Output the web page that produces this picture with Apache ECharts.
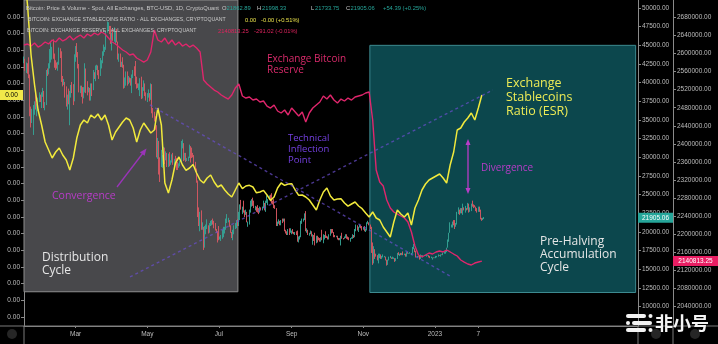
<!DOCTYPE html>
<html>
<head>
<meta charset="utf-8">
<script src="https://cdn.jsdelivr.net/npm/echarts@6/dist/echarts.min.js"></script>
<style>
  html, body { margin: 0; padding: 0; background: #000; }
  #main { width: 718px; height: 344px; }
</style>
</head>
<body>
<div id="main"></div>
<script>
// ---------- data ----------
const startDate = '2022-01-16';           // first daily candle
const sampleStep = 3;                     // on-chain series sampled every 3 days

const xTickDates  = ['2022-03-01', '2022-05-01', '2022-07-01', '2022-09-01', '2022-11-01', '2023-01-01', '2023-02-07'];
const xTickLabels = ['Mar', 'May', 'Jul', 'Sep', 'Nov', '2023', '7'];

const priceTicks = [10000, 12500, 15000, 17500, 20000, 22500, 25000, 27500, 30000, 32500, 35000, 37500, 40000, 42500, 45000, 47500, 50000];
const reserveTicks = [2040000, 2080000, 2120000, 2160000, 2200000, 2240000, 2280000, 2320000, 2360000, 2400000, 2440000, 2480000, 2520000, 2560000, 2600000, 2640000, 2680000];
const esrTicks = [0.0010, 0.0011, 0.0012, 0.0013, 0.0014, 0.0015, 0.0016, 0.0017, 0.0018, 0.0019, 0.0020, 0.0021, 0.0022, 0.0023, 0.0024, 0.0025, 0.0026, 0.0027, 0.0028];

// BTC-USD daily candles, thousands of USD (open = previous close)
const firstOpen = 43.1;
const btcClose = [
  43.1,42.2,42.4,41.7,40.7,36.5,35.1,36.3,36.7,37.0,36.9,37.2,37.7,38.2,37.9,38.5,
  38.7,37.0,37.3,41.6,41.4,42.4,43.8,44.1,44.4,43.6,42.4,42.2,42.1,42.6,44.6,43.9,40.6,40.0,40.1,38.4,37.0,38.3,37.3,38.3,39.2,39.1,37.7,43.2,
  44.4,44.0,42.5,39.1,39.4,38.4,37.9,38.7,41.9,39.4,38.8,38.9,37.8,39.7,39.3,41.1,40.9,42.0,42.2,41.3,41.0,42.4,42.9,44.0,44.3,44.5,46.8,47.1,47.5,47.1,45.5,
  46.3,45.8,46.4,46.6,45.5,43.2,43.4,42.3,42.8,42.2,39.5,40.1,41.1,39.9,40.6,40.4,39.7,40.8,41.5,41.4,40.5,39.7,39.5,39.5,40.4,38.1,39.2,39.7,38.6,37.6,
  38.5,38.5,37.7,39.7,36.6,36.0,35.5,34.1,30.1,31.0,29.1,29.0,29.3,30.1,31.3,29.9,30.4,28.7,30.3,29.2,29.4,30.3,29.1,29.7,29.6,29.3,28.6,29.0,29.5,31.7,31.8,
  29.8,30.5,29.7,29.9,29.9,31.4,31.1,30.2,30.1,29.1,28.4,26.6,22.5,22.2,22.6,20.4,20.5,19.0,20.6,20.6,20.7,20.0,21.1,21.2,21.5,21.0,20.7,20.3,20.1,19.8,
  19.3,19.3,19.3,20.2,20.2,20.5,21.6,21.6,21.6,20.9,19.9,19.3,20.2,20.6,20.8,21.2,20.8,22.5,23.4,23.2,23.2,22.7,22.5,22.6,21.3,21.3,22.9,23.8,23.8,23.6,23.3,
  23.3,23.0,22.8,22.6,23.3,23.2,23.2,23.8,23.2,23.9,23.9,24.4,24.4,24.3,24.1,23.9,23.3,23.2,20.8,21.1,21.5,21.4,21.5,21.4,21.6,20.3,20.0,19.6,20.3,19.8,20.0,
  20.1,19.9,19.8,20.0,19.8,18.8,19.3,19.3,21.4,21.6,21.8,22.4,20.2,20.2,19.7,19.8,20.1,19.4,19.5,18.9,18.5,19.4,19.3,18.9,18.8,19.2,19.1,19.4,19.6,19.4,
  19.3,19.0,19.6,20.3,20.2,19.9,19.5,19.4,19.4,19.1,19.0,19.2,19.4,19.2,19.1,19.3,19.5,19.3,19.1,19.0,19.2,19.2,19.6,19.3,20.1,20.8,20.3,20.6,20.8,20.6,20.5,
  20.5,20.2,20.2,21.1,21.3,20.9,20.6,18.5,15.9,17.6,17.1,16.8,16.3,16.6,16.9,16.7,16.7,16.7,16.7,16.3,15.8,16.2,16.6,16.6,16.5,16.5,16.5,16.2,16.4,17.2,
  17.0,17.1,16.9,17.1,17.0,17.1,16.8,17.2,17.1,17.1,17.1,17.2,17.8,17.8,17.4,16.6,16.8,16.7,16.4,16.9,16.8,16.8,16.8,16.8,16.8,16.9,16.7,16.5,16.6,16.6,16.5,
  16.6,16.7,16.7,16.9,16.8,17.0,16.9,17.1,17.2,17.4,17.9,18.8,19.9,20.9,20.9,21.2,21.1,20.7,21.1,22.7,22.8,22.7,22.9,22.6,23.1,23.0,23.1,23.0,23.7,22.8,23.1,
  23.7,23.5,23.4,23.3,22.9,22.8,23.2,22.9,21.8,21.6,21.86289,21.90506
];
const btcHigh = [
  43.5,43.2,42.7,42.6,43.4,41.1,36.8,36.5,37.0,37.5,38.9,37.2,38.0,38.7,38.4,38.7,
  39.3,38.9,37.4,41.7,41.9,42.6,44.5,45.4,44.8,45.8,43.9,43.0,42.7,42.8,44.7,44.6,44.2,40.9,40.5,40.1,39.5,38.4,39.2,38.9,39.7,40.1,39.8,43.8,
  44.9,45.3,44.1,42.5,39.6,39.6,39.4,39.4,42.6,41.9,40.2,39.4,39.3,39.9,39.9,41.7,41.4,42.3,42.4,42.3,41.7,43.3,43.0,44.2,45.1,44.8,46.9,48.2,48.1,47.6,47.6,
  46.7,47.2,47.4,46.9,47.2,45.5,43.9,43.9,42.8,43.4,42.4,40.7,41.5,41.5,40.9,40.7,40.6,41.1,41.7,42.2,42.9,40.8,39.9,39.9,40.6,40.8,39.4,40.3,39.9,38.7,
  38.6,39.1,38.6,39.9,39.8,36.6,36.1,35.5,34.3,32.6,32.2,30.0,31.0,30.3,31.4,31.3,30.8,30.6,30.5,30.7,29.6,30.4,30.6,29.8,30.2,29.9,29.4,29.2,29.5,32.2,32.4,
  31.9,30.6,30.6,29.9,30.1,31.7,31.5,31.3,30.6,30.3,29.4,28.5,26.9,23.3,22.7,22.9,21.3,20.7,20.8,21.0,21.7,20.9,21.2,21.5,21.6,21.8,21.5,21.2,20.4,20.1,
  20.8,19.4,19.6,20.3,20.7,20.7,21.8,22.4,21.9,21.6,20.9,20.0,20.3,20.9,21.2,21.6,21.7,22.7,23.7,24.3,23.4,24.2,22.9,23.0,22.7,21.4,23.0,24.2,24.4,24.6,24.2,
  23.5,23.4,23.6,23.2,23.4,23.3,23.4,24.2,23.9,24.2,24.9,24.4,24.9,25.0,25.2,24.2,24.4,23.6,23.2,21.4,21.7,21.5,21.6,21.8,21.8,21.8,20.3,20.1,20.4,20.5,20.5,
  20.2,20.4,20.0,20.0,20.1,20.2,19.4,19.5,21.5,21.8,21.8,22.5,22.8,20.5,20.3,19.9,20.2,20.1,19.7,19.6,19.9,19.5,19.5,19.3,19.2,19.3,20.3,19.7,19.6,20.1,
  19.5,19.4,19.7,20.4,20.4,20.4,20.0,19.6,19.5,19.5,19.2,19.2,19.5,19.9,19.2,19.4,19.7,19.7,19.4,19.3,19.2,19.3,19.7,19.6,20.4,21.0,20.9,20.7,21.0,20.9,20.8,
  20.7,20.8,20.4,21.3,21.5,21.3,21.0,20.7,18.6,18.1,17.7,17.1,16.9,17.1,17.1,17.0,16.8,17.0,16.8,16.7,16.3,16.3,16.7,16.8,16.6,16.7,16.6,16.5,16.5,17.2,
  17.3,17.1,17.2,17.2,17.4,17.1,17.1,17.3,17.3,17.2,17.3,17.2,18.0,18.4,17.8,17.5,16.8,16.8,16.8,17.0,16.9,16.9,16.9,16.9,16.9,16.9,16.9,16.8,16.7,16.6,16.6,
  16.6,16.8,16.8,17.0,16.9,17.0,17.0,17.2,17.4,17.5,17.9,19.0,19.9,21.3,21.0,21.4,21.6,21.6,21.2,22.7,23.3,23.0,23.2,23.2,23.8,23.3,23.5,23.2,23.9,23.8,23.3,
  23.8,24.2,23.7,23.6,23.4,23.2,23.4,23.4,23.0,21.9,21.9,21.99833
];
const btcLow = [
  42.6,41.6,41.3,41.2,40.6,35.5,34.0,34.6,33.0,35.7,36.4,35.5,36.2,37.4,37.4,36.6,
  38.1,36.6,36.3,37.0,40.9,41.1,41.9,42.7,43.1,43.2,42.0,41.7,41.9,41.6,42.4,43.3,40.1,39.5,39.7,38.0,36.8,36.4,37.1,34.3,38.0,38.6,37.0,37.5,
  42.8,43.4,41.9,38.7,38.6,38.1,37.2,37.9,38.7,38.6,38.3,38.7,37.6,37.6,38.2,39.0,40.5,40.2,41.7,41.0,40.5,40.9,41.9,42.6,43.6,44.1,44.4,46.7,46.9,46.5,45.2,
  44.3,45.6,45.5,45.1,45.4,43.1,42.8,42.1,42.1,42.0,39.2,39.3,39.6,39.6,39.8,40.0,39.6,38.6,40.6,40.9,39.8,39.2,39.3,39.0,38.2,37.8,37.9,38.9,38.2,37.6,
  37.4,38.0,37.5,37.7,35.9,35.3,34.8,33.7,30.0,29.8,27.7,26.7,28.7,28.6,29.5,29.1,29.6,28.7,28.7,28.8,29.0,29.3,29.0,28.7,29.3,28.3,28.3,28.6,28.8,29.3,31.2,
  29.5,29.6,29.4,29.5,29.5,29.9,29.3,29.9,30.0,28.9,28.1,26.6,22.0,20.8,20.1,20.3,20.3,17.6,17.9,19.7,20.4,19.8,19.9,20.8,20.9,21.0,20.5,20.2,19.9,18.6,
  18.9,19.0,18.8,19.1,19.3,19.8,20.3,21.2,21.3,20.7,19.9,19.2,18.9,19.7,20.4,20.5,20.8,20.8,21.6,23.0,22.4,22.6,22.0,22.3,21.3,20.7,21.0,22.6,23.4,23.5,23.2,
  22.9,22.7,22.6,22.4,22.6,22.9,22.9,23.2,22.9,22.7,23.9,23.6,24.3,24.1,23.8,23.7,23.2,23.1,20.8,20.8,21.1,20.9,20.9,21.2,21.4,20.1,19.8,19.6,19.6,19.6,19.9,
  19.7,19.8,19.7,19.6,19.6,18.7,18.6,19.0,19.3,21.1,21.4,21.6,20.1,19.9,19.6,19.5,19.7,19.4,18.3,18.8,18.2,18.5,18.6,18.9,18.7,18.7,18.9,18.5,19.0,19.2,
  19.2,19.0,19.0,19.5,19.8,19.9,19.3,19.3,19.3,19.0,18.9,18.9,18.2,19.1,19.0,19.1,19.2,19.1,19.0,18.9,18.7,19.1,19.1,19.2,19.3,20.1,20.2,20.0,20.6,20.5,20.2,
  20.3,20.1,20.0,20.2,21.1,20.9,20.4,17.2,15.6,15.8,16.4,16.7,16.2,15.8,16.5,16.4,16.4,16.6,16.6,16.2,15.5,15.6,16.2,16.5,16.4,16.4,16.4,16.0,16.1,16.4,
  16.9,16.8,16.9,16.9,16.9,16.9,16.7,16.7,17.1,17.1,17.1,16.9,17.1,17.7,17.3,16.6,16.6,16.7,16.3,16.4,16.8,16.6,16.8,16.8,16.7,16.8,16.6,16.5,16.5,16.3,16.5,
  16.5,16.5,16.6,16.7,16.8,16.7,16.9,16.9,17.1,17.1,17.3,17.9,18.7,19.9,20.6,20.6,20.9,20.4,20.7,21.0,22.4,22.3,22.5,22.5,22.3,22.9,22.6,22.9,23.0,22.6,22.7,
  22.8,23.4,23.2,23.3,22.8,22.6,22.7,22.7,21.7,21.5,21.6,21.73375
];

// Exchange Stablecoins Ratio, every 3 days
const esrValues = [
  0.003082,0.002872,0.002572,0.002392,0.002242,0.002152,0.002050,0.002002,0.001954,0.001990,
  0.002014,0.001972,0.001942,0.001882,0.001954,0.002074,0.002152,0.002182,0.002164,0.002212,
  0.002194,0.002218,0.002182,0.002212,0.002152,0.002062,0.002110,0.002140,0.002170,0.002194,
  0.002182,0.002134,0.002050,0.002122,0.002164,0.002134,0.002104,0.002122,0.002254,0.002152,
  0.001804,0.001744,0.001822,0.001924,0.001960,0.001912,0.001880,0.001894,0.001915,0.001864,
  0.001822,0.001804,0.001834,0.001852,0.001810,0.001780,0.001792,0.001762,0.001738,0.001720,
  0.001762,0.001804,0.001770,0.001786,0.001790,0.001780,0.001745,0.001750,0.001760,0.001732,
  0.001700,0.001720,0.001774,0.001804,0.001790,0.001798,0.001800,0.001762,0.001730,0.001732,
  0.001720,0.001702,0.001672,0.001642,0.001702,0.001750,0.001774,0.001726,0.001702,0.001708,
  0.001710,0.001684,0.001665,0.001678,0.001690,0.001666,0.001650,0.001624,0.001600,0.001630,
  0.001594,0.001582,0.001540,0.001510,0.001480,0.001570,0.001642,0.001618,0.001600,0.001624,
  0.001552,0.001654,0.001702,0.001762,0.001798,0.001822,0.001834,0.001846,0.001858,0.001834,
  0.001804,0.001912,0.001990,0.002122,0.002134,0.002170,0.002194,0.002224,0.002182,0.002254,
  0.002332
];

// Exchange Bitcoin Reserve (BTC), every 3 days
const reserveValues = [
  2618700,2621000,2616500,2623200,2614300,2618700,2625400,2621000,2629800,2625400,
  2634200,2627600,2632000,2638600,2629800,2636400,2640900,2634200,2643100,2638600,
  2645300,2640900,2647500,2643100,2634200,2625400,2621000,2614300,2607700,2603300,
  2596600,2598800,2590000,2585600,2581100,2585600,2603300,2651900,2629800,2625400,
  2634200,2621000,2629800,2618700,2625400,2616500,2621000,2614300,2618700,2612100,
  2603300,2541300,2532500,2525900,2519200,2514800,2508200,2503700,2499300,2508200,
  2523600,2532500,2506000,2501500,2503700,2497100,2499300,2492700,2494900,2483800,
  2479400,2486100,2472800,2468400,2475000,2463900,2479400,2470600,2461700,2470600,
  2448500,2468400,2479400,2486100,2492700,2506000,2499300,2508200,2497100,2490500,
  2499300,2494900,2501500,2497100,2503700,2506000,2508200,2512600,2514800,2452900,
  2342300,2315800,2306900,2276000,2258300,2249400,2245000,2240600,2236200,2227300,
  2205200,2174200,2154300,2149900,2154300,2158700,2156500,2161000,2163200,2161000,
  2165400,2161000,2156500,2152100,2143300,2138800,2134400,2132200,2136600,2138800,
  2140813.25
];

// ---------- helpers ----------
const DAY = 864e5;
function utc(s) { const p = s.split('-').map(Number); return Date.UTC(p[0], p[1] - 1, p[2]); }
function dayIndex(s) { return Math.round((utc(s) - utc(startDate)) / DAY); }

const candles = btcClose.map((c, i) => {
  const o = i === 0 ? firstOpen : btcClose[i - 1];
  return [i, o * 1000, c * 1000, btcLow[i] * 1000, btcHigh[i] * 1000];
});
const esrSeries = esrValues.map((v, i) => [i * sampleStep, v]);
const reserveSeries = reserveValues.map((v, i) => [i * sampleStep, v]);
const xTickDays = xTickDates.map(dayIndex);
const xLabelByDay = {};
xTickDays.forEach((d, i) => { xLabelByDay[d] = xTickLabels[i]; });

// ---------- styles ----------
const AXIS_TXT = '#bdbdbd';
const AXIS_LINE = '#8a8a8a';
const SMALL = 6.5;
const UP = '#35a596', DOWN = '#da5862';

const chart = echarts.init(document.getElementById('main'), null, { renderer: 'canvas' });

const option = {
  backgroundColor: '#000',
  animation: false,
  grid: { left: 24, right: 80, top: 0, bottom: 18, containLabel: false, outerBoundsMode: 'none' },
  xAxis: {
    type: 'value', min: 0, max: 523,
    axisLine: { show: true, lineStyle: { color: AXIS_LINE } },
    axisTick: { show: true, length: 2, customValues: xTickDays, lineStyle: { color: AXIS_LINE } },
    axisLabel: {
      customValues: xTickDays, color: AXIS_TXT, fontSize: SMALL, margin: 5,
      fontFamily: 'Liberation Sans',
      formatter: v => xLabelByDay[Math.round(v)] || ''
    },
    splitLine: { show: false }
  },
  yAxis: [
    { // stablecoins ratio
      type: 'value', position: 'left', min: 0.000946, max: 0.002902,
      axisLine: { show: true, lineStyle: { color: AXIS_LINE } },
      axisTick: { show: true, length: 3, customValues: esrTicks, lineStyle: { color: AXIS_LINE } },
      axisLabel: { customValues: esrTicks, color: AXIS_TXT, fontSize: SMALL, margin: 4, fontFamily: 'Liberation Sans', formatter: v => v.toFixed(2) },
      splitLine: { show: false }
    },
    { // price
      type: 'value', position: 'right', min: 7415, max: 51070,
      axisLine: { show: true, lineStyle: { color: AXIS_LINE } },
      axisTick: { show: true, length: 3, customValues: priceTicks, lineStyle: { color: AXIS_LINE } },
      axisLabel: { customValues: priceTicks, color: AXIS_TXT, fontSize: SMALL, margin: 4, fontFamily: 'Liberation Sans', formatter: v => v.toFixed(2) },
      splitLine: { show: false }
    },
    { // reserve
      type: 'value', position: 'right', offset: 35, min: 1997300, max: 2718300,
      axisLine: { show: true, lineStyle: { color: AXIS_LINE } },
      axisTick: { show: true, length: 3, customValues: reserveTicks, lineStyle: { color: AXIS_LINE } },
      axisLabel: { customValues: reserveTicks, color: AXIS_TXT, fontSize: SMALL, margin: 4, fontFamily: 'Liberation Sans', formatter: v => v.toFixed(2) },
      splitLine: { show: false }
    }
  ],
  series: [
    { // cycle zones and trend guides
      type: 'line', yAxisIndex: 1, data: [], z: 1, silent: true,
      markArea: {
        silent: true,
        data: [
          [{ xAxis: 0, yAxis: 51070, itemStyle: { color: '#48484b', borderColor: '#8e8e8e', borderWidth: 1 } },
           { xAxis: 182.2, yAxis: 12000 }],
          [{ xAxis: 294.6, yAxis: 45000, itemStyle: { color: '#0c474d', borderColor: '#3d8a90', borderWidth: 1 } },
           { xAxis: 521, yAxis: 11900 }]
        ]
      },
      markLine: {
        silent: true, symbol: ['none', 'none'],
        label: { show: false },
        lineStyle: { color: 'rgba(105,78,205,0.7)', type: [3, 3], width: 1.4 },
        data: [
          [{ coord: [107.3, 37015] }, { coord: [362.7, 14123] }],
          [{ coord: [90.3, 13990] }, { coord: [399.3, 39023] }]
        ]
      }
    },
    {
      type: 'candlestick', yAxisIndex: 1, data: candles, z: 2,
      encode: { x: 0, y: [1, 2, 3, 4] },
      barWidth: 1,
      itemStyle: { color: UP, color0: DOWN, borderColor: UP, borderColor0: DOWN, borderWidth: 1, opacity: 0.92 }
    },
    {
      type: 'line', yAxisIndex: 2, data: reserveSeries, z: 3,
      showSymbol: false, symbol: 'none',
      lineStyle: { color: '#e0266c', width: 1.4 }
    },
    {
      type: 'line', yAxisIndex: 0, data: esrSeries, z: 4,
      showSymbol: false, symbol: 'none',
      lineStyle: { color: '#f2ea3c', width: 1.5 }
    }
  ]
};

chart.setOption(option);

// ---------- overlays: legend header, notes, last-value tags ----------
const FONT_UI = '"Open Sans", "Noto Sans", sans-serif';
const FONT_SM = '"Liberation Sans", Arial, sans-serif';
function txt(text, x, y, fill, size, extra) {
  return Object.assign({
    type: 'text', silent: true, z: 100,
    style: { text: text, x: x, y: y, fill: fill, font: size + 'px ' + FONT_UI, textVerticalAlign: 'middle' }
  }, extra || {});
}
function small(text, x, y, fill, size) {
  return { type: 'text', silent: true, z: 100,
    style: { text: text, x: x, y: y, fill: fill, font: (size || 5.8) + 'px ' + FONT_SM, textVerticalAlign: 'middle' } };
}

const last = candles[candles.length - 1];
const fmt = v => v.toFixed(2);
const lastEsr = esrValues[esrValues.length - 1];
const lastReserve = reserveValues[reserveValues.length - 1];
const yEsr = chart.convertToPixel({ yAxisIndex: 0 }, lastEsr);
const yPrice = chart.convertToPixel({ yAxisIndex: 1 }, last[2]);
const yRes = chart.convertToPixel({ yAxisIndex: 2 }, lastReserve);

const HDR = '#c8c8c8', TEAL = '#26a69a', YEL = '#e8e04a', RED = '#e0245e';
const NOTE_PURPLE = '#7440e0', NOTE_MAGENTA = '#b83cc8';
const CAPS = 5.2;

const graphics = [
  // header legend
  small('Bitcoin: Price & Volume - Spot, All Exchanges, BTC-USD, 1D, CryptoQuant', 26, 8, HDR),
  small('O', 222, 8, HDR), small(fmt(last[1]), 226.5, 8, TEAL),
  small('H', 257, 8, HDR), small(fmt(last[4]), 262, 8, TEAL),
  small('L', 311, 8, HDR), small(fmt(last[3]), 315, 8, TEAL),
  small('C', 346, 8, HDR), small(fmt(last[2]), 350.5, 8, TEAL),
  small('+54.39 (+0.25%)', 383, 8, TEAL),
  small('BITCOIN: EXCHANGE STABLECOINS RATIO - ALL EXCHANGES, CRYPTOQUANT', 28, 20, HDR, CAPS),
  small(fmt(lastEsr), 245, 20, YEL), small('-0.00 (+0.51%)', 261, 20, YEL),
  small('BITCOIN: EXCHANGE RESERVE - ALL EXCHANGES, CRYPTOQUANT', 27, 31, HDR, CAPS),
  small(fmt(lastReserve), 218, 31, RED), small('-291.02 (-0.01%)', 254, 31, RED),

  // notes
  txt('Exchange Bitcoin', 267, 59, '#d82a6a', 10),
  txt('Reserve', 267, 70, '#d82a6a', 10),
  txt('Technical', 288, 138, NOTE_PURPLE, 9.5),
  txt('Inflection', 288, 149, NOTE_PURPLE, 9.5),
  txt('Point', 288, 160, NOTE_PURPLE, 9.5),
  txt('Exchange', 506, 83, '#ecea55', 12.5),
  txt('Stablecoins', 506, 97, '#ecea55', 12.5),
  txt('Ratio (ESR)', 506, 111, '#ecea55', 12.5),
  txt('Divergence', 481, 168, NOTE_MAGENTA, 10),
  txt('Convergence', 52, 196, NOTE_MAGENTA, 10.5),
  txt('Distribution', 42, 258, '#e6e6e6', 12),
  txt('Cycle', 42, 271, '#e6e6e6', 12),
  txt('Pre-Halving', 540, 242, '#e6e6e6', 12),
  txt('Accumulation', 540, 255, '#e6e6e6', 12),
  txt('Cycle', 540, 268, '#e6e6e6', 12),

  // divergence double arrow
  { type: 'line', silent: true, z: 100, shape: { x1: 468, y1: 143, x2: 468, y2: 190 }, style: { stroke: NOTE_MAGENTA, lineWidth: 1.3 } },
  { type: 'polygon', silent: true, z: 100, shape: { points: [[468, 139], [465.5, 145], [470.5, 145]] }, style: { fill: NOTE_MAGENTA } },
  { type: 'polygon', silent: true, z: 100, shape: { points: [[468, 194], [465.5, 188], [470.5, 188]] }, style: { fill: NOTE_MAGENTA } },
  // convergence arrow
  { type: 'line', silent: true, z: 100, shape: { x1: 117, y1: 187, x2: 143, y2: 153 }, style: { stroke: '#9a34b8', lineWidth: 1.3 } },
  { type: 'polygon', silent: true, z: 100, shape: { points: [[146.5, 148.5], [139.8, 152.2], [144.6, 155.8]] }, style: { fill: '#9a34b8' } },

  // frame lines across the whole window
  { type: 'line', silent: true, z: 90, shape: { x1: 0, y1: 326, x2: 718, y2: 326 }, style: { stroke: '#7a7a7a', lineWidth: 1 } },
  { type: 'line', silent: true, z: 90, shape: { x1: 24, y1: 326, x2: 24, y2: 344 }, style: { stroke: '#7a7a7a', lineWidth: 1 } },
  { type: 'line', silent: true, z: 90, shape: { x1: 638, y1: 326, x2: 638, y2: 344 }, style: { stroke: '#7a7a7a', lineWidth: 1 } },
  { type: 'line', silent: true, z: 90, shape: { x1: 673, y1: 326, x2: 673, y2: 344 }, style: { stroke: '#7a7a7a', lineWidth: 1 } },
  { type: 'circle', silent: true, z: 90, shape: { cx: 12, cy: 334, r: 5 }, style: { fill: '#262626' } },
  { type: 'circle', silent: true, z: 90, shape: { cx: 656, cy: 334, r: 5 }, style: { fill: '#262626' } },
  { type: 'circle', silent: true, z: 90, shape: { cx: 695, cy: 334, r: 5 }, style: { fill: '#262626' } },

  // last-value tags on the axes
  { type: 'rect', silent: true, z: 110, shape: { x: 0, y: yEsr - 5, width: 23, height: 10 }, style: { fill: '#f1e84a' } },
  { type: 'text', silent: true, z: 111, style: { text: fmt(lastEsr), x: 11.5, y: yEsr, fill: '#000', font: SMALL + 'px ' + FONT_SM, textAlign: 'center', textVerticalAlign: 'middle' } },
  { type: 'rect', silent: true, z: 110, shape: { x: 638, y: yPrice - 5, width: 35, height: 10 }, style: { fill: '#26a69a' } },
  { type: 'text', silent: true, z: 111, style: { text: fmt(last[2]), x: 655.5, y: yPrice, fill: '#fff', font: SMALL + 'px ' + FONT_SM, textAlign: 'center', textVerticalAlign: 'middle' } },
  { type: 'rect', silent: true, z: 110, shape: { x: 673, y: yRes - 5, width: 45, height: 10 }, style: { fill: '#e91e63' } },
  { type: 'text', silent: true, z: 111, style: { text: fmt(lastReserve), x: 695.5, y: yRes, fill: '#fff', font: SMALL + 'px ' + FONT_SM, textAlign: 'center', textVerticalAlign: 'middle' } },

  // site mark
  { type: 'rect', silent: true, z: 120, shape: { x: 626, y: 314, width: 20, height: 4, r: 2 }, style: { fill: '#f2f2f2' } },
  { type: 'circle', silent: true, z: 120, shape: { cx: 650.5, cy: 316, r: 2 }, style: { fill: '#f2f2f2' } },
  { type: 'circle', silent: true, z: 120, shape: { cx: 628, cy: 323, r: 2 }, style: { fill: '#f2f2f2' } },
  { type: 'rect', silent: true, z: 120, shape: { x: 632, y: 321, width: 20, height: 4, r: 2 }, style: { fill: '#f2f2f2' } },
  { type: 'rect', silent: true, z: 120, shape: { x: 626, y: 328, width: 20, height: 4, r: 2 }, style: { fill: '#f2f2f2' } },
  { type: 'circle', silent: true, z: 120, shape: { cx: 650.5, cy: 330, r: 2 }, style: { fill: '#f2f2f2' } },
  { type: 'text', silent: true, z: 120, style: { text: '非小号', x: 655, y: 323, fill: '#f4f4f4', font: 'bold 18px "Noto Sans CJK SC", sans-serif', textVerticalAlign: 'middle' } }
];

chart.setOption({ graphic: graphics });
</script>
</body>
</html>
